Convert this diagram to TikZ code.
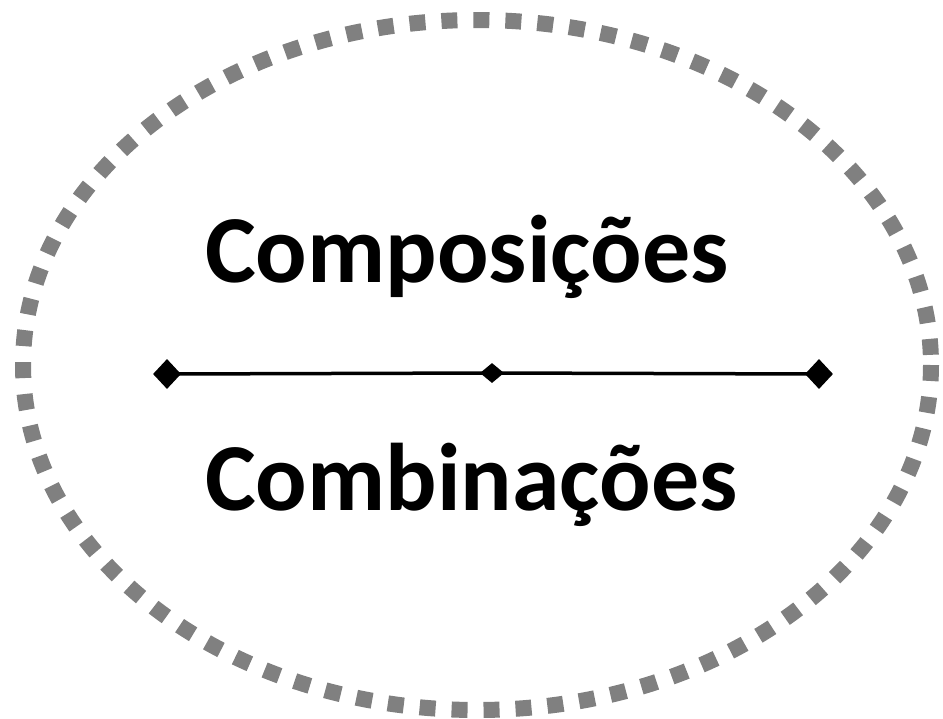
\documentclass[tikz,border=0pt]{standalone}
\usepackage{fontspec}
\setmainfont{Carlito}
\usetikzlibrary{shapes.geometric}
\definecolor{dashgray}{RGB}{128,128,128}
\tikzset{
  ring/.style={draw=dashgray, line width=16pt, dash pattern=on 16pt off 16pt},
  label/.style={inner sep=0pt, anchor=base west, font=\fontsize{96}{110}\selectfont\bfseries},
  endmark/.style={diamond, fill=black, inner sep=0pt, minimum width=28pt, minimum height=30pt},
  midmark/.style={diamond, fill=black, inner sep=0pt, minimum width=24pt, minimum height=20pt},
  bar/.style={draw=black, line width=3.5pt}
}
\begin{document}
\begin{tikzpicture}[x=1pt,y=-1pt]
\useasboundingbox (0,0) rectangle (943,718);
\draw[ring] (477,365) ellipse [x radius=454, y radius=345];
\node[label] (top) at (205,282) {Composições};
\node[label] (bot) at (205,510) {Combinações};
\node[endmark] (l) at (167,374) {};
\node[midmark] (m) at (492,373) {};
\node[endmark] (r) at (819,374) {};
\draw[bar] (l.center) -- (m.center) -- (r.center);
\end{tikzpicture}
\end{document}
